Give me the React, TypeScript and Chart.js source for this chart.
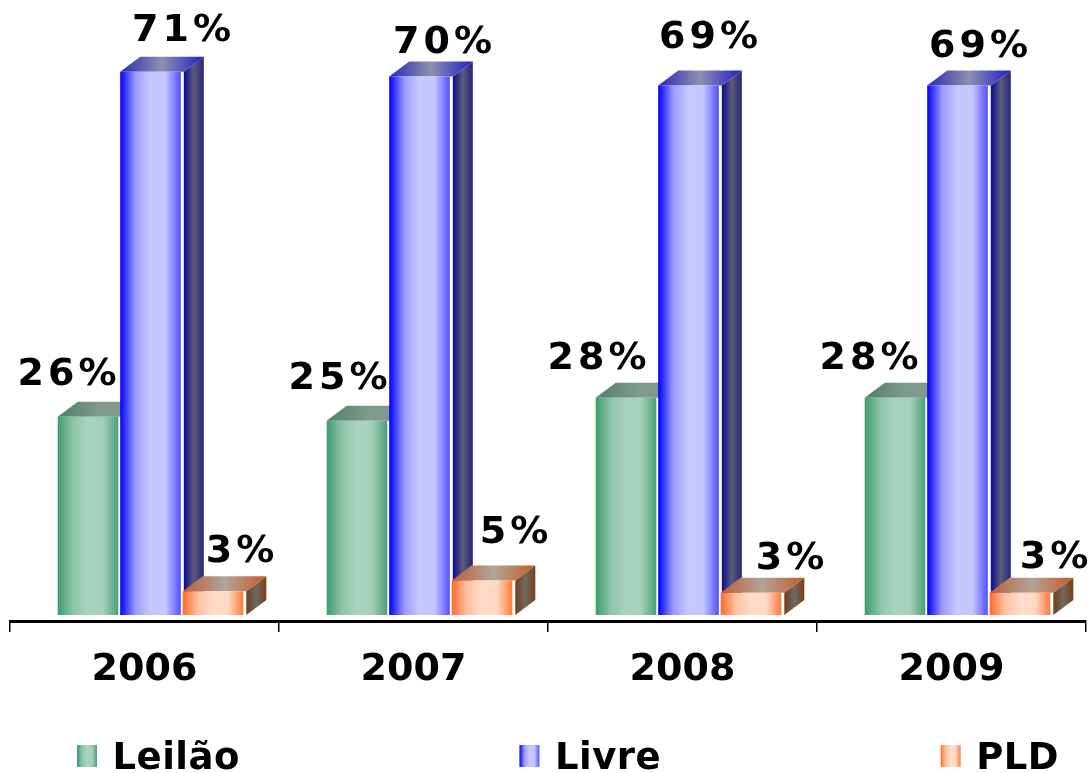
import React, { useEffect, useRef } from "react";
import { Chart, registerables } from "chart.js";

Chart.register(...registerables);

const years = ["2006", "2007", "2008", "2009"];
const seriesNames = ["Leilão", "Livre", "PLD"];
const leilao = [25.9, 25.4, 28.4, 28.4];
const livre = [71, 70.4, 69.2, 69.2];
const pld = [3.1, 4.5, 2.9, 2.9];
const labelDx = [
  [-19, -17, -27, -24],
  [33, 25, 22, 23],
  [29, 34, 41, 36],
];
const labelDy = [
  [-42, -42, -39, -39],
  [-41, -33, -47, -38],
  [-39, -47, -34, -35],
];

type Palette = {
  face: string[];
  top: string[];
  side: string[];
};
const palettes: Palette[] = [
  {
    face: ["#3f9a70", "#8cc4a9", "#a9d3bf", "#a4cfba", "#4aa078"],
    top: ["#4f7f68", "#7f9a8a", "#7f9a8a"],
    side: ["#3f6a55", "#6f8f7f", "#3f6a55"],
  },
  {
    face: ["#0000ff", "#9a9aff", "#c8c8ff", "#c4c4ff", "#5050ff"],
    top: ["#2a2ab0", "#8f8fb0", "#1e1ec8"],
    side: ["#0a0a90", "#5c5c78", "#25257f"],
  },
  {
    face: ["#ff6a28", "#ffc0a0", "#ffdcc8", "#ffd8c4", "#ff7a38"],
    top: ["#bc5f38", "#b0a498", "#c85a24"],
    side: ["#6e3e1e", "#706a62", "#7a3e14"],
  },
];

const DEPTH_X = 20;
const DEPTH_Y = 15;
const FACE_GAP = 3;
const BAR_SHIFT = 6;

function grad(ctx: CanvasRenderingContext2D, x0: number, x1: number, stops: string[]) {
  const g = ctx.createLinearGradient(x0, 0, x1, 0);
  stops.forEach((c, i) => g.addColorStop(i / (stops.length - 1), c));
  return g;
}

const bars3d = {
  id: "bars3d",
  afterDatasetsUpdate(chart: any) {
    chart.data.datasets.forEach((_: any, i: number) => {
      chart.getDatasetMeta(i).data.forEach((el: any) => {
        el.x += BAR_SHIFT;
      });
    });
  },
  beforeDatasetsDraw(chart: any) {
    // series are painted left to right so each one overlaps the depth of the previous
    const ctx: CanvasRenderingContext2D = chart.ctx;
    chart.data.datasets.forEach((_: any, i: number) => {
      const pal = palettes[i];
      chart.getDatasetMeta(i).data.forEach((el: any) => {
        const l = el.x - el.width / 2;
        const r = el.x + el.width / 2;
        const fr = r + FACE_GAP;
        const t = el.y;
        const b = el.base;
        ctx.save();
        ctx.fillStyle = grad(ctx, fr, fr + DEPTH_X, pal.side);
        ctx.beginPath();
        ctx.moveTo(fr, t);
        ctx.lineTo(fr + DEPTH_X, t - DEPTH_Y);
        ctx.lineTo(fr + DEPTH_X, b - DEPTH_Y);
        ctx.lineTo(fr, b);
        ctx.closePath();
        ctx.fill();
        ctx.fillStyle = grad(ctx, l, fr + DEPTH_X, pal.top);
        ctx.beginPath();
        ctx.moveTo(l, t);
        ctx.lineTo(l + DEPTH_X, t - DEPTH_Y);
        ctx.lineTo(fr + DEPTH_X, t - DEPTH_Y);
        ctx.lineTo(fr, t);
        ctx.closePath();
        ctx.fill();
        ctx.restore();
        el.options.backgroundColor = grad(ctx, l, r, pal.face);
        el.draw(ctx);
      });
    });
  },
  beforeDatasetDraw() {
    return false;
  },
  afterDatasetsDraw(chart: any) {
    const ctx: CanvasRenderingContext2D = chart.ctx;
    ctx.save();
    ctx.font = "bold 38px 'DejaVu Sans'";
    (ctx as any).letterSpacing = "4px";
    ctx.fillStyle = "#000";
    ctx.textAlign = "center";
    ctx.textBaseline = "middle";
    chart.data.datasets.forEach((ds: any, i: number) => {
      chart.getDatasetMeta(i).data.forEach((el: any, j: number) => {
        ctx.fillText(`${Math.round(ds.data[j])}%`, el.x + labelDx[i][j], el.y + labelDy[i][j]);
      });
    });
    ctx.restore();
  },
  afterDraw(chart: any) {
    // legend row: items separated by one constant gap
    const ctx: CanvasRenderingContext2D = chart.ctx;
    ctx.save();
    ctx.font = "bold 37px 'DejaVu Sans'";
    (ctx as any).letterSpacing = "0.5px";
    ctx.textBaseline = "alphabetic";
    ctx.textAlign = "left";
    let x = 77;
    seriesNames.forEach((name, i) => {
      ctx.fillStyle = grad(ctx, x, x + 20, palettes[i].face);
      ctx.fillRect(x, 745, 20, 22);
      ctx.fillStyle = "#000";
      ctx.fillText(name, x + 35.5, 769);
      x += 35.5 + ctx.measureText(name).width + 279.5;
    });
    ctx.restore();
  },
};

export default function App() {
  const ref = useRef<HTMLCanvasElement>(null);
  useEffect(() => {
    const canvas = ref.current!;
    const ctx = canvas.getContext("2d")!;
    (ctx as any).letterSpacing = "1.5px";
    const series = [leilao, livre, pld];
    const chart = new Chart(canvas, {
      type: "bar",
      data: {
        labels: years,
        datasets: series.map((data, i) => ({
          label: seriesNames[i],
          data,
          clip: false as any,
          backgroundColor: palettes[i].face[2],
          borderWidth: 0,
          categoryPercentage: 0.697,
          barPercentage: 0.97,
        })),
      },
      options: {
        responsive: false,
        animation: false,
        devicePixelRatio: 1,
        layout: { padding: { left: 10, right: 4, top: 0, bottom: 0 } },
        plugins: { legend: { display: false }, tooltip: { enabled: false } },
        scales: {
          x: {
            afterFit: (s: any) => {
              s.height = 152;
            },
            border: { color: "#000", width: 3 },
            grid: { drawOnChartArea: false, color: "#000", tickLength: 11, lineWidth: 1.5 },
            ticks: {
              color: "#000",
              font: { family: "'DejaVu Sans'", weight: "bold", size: 38 },
              padding: 15,
              maxRotation: 0,
            },
          },
          y: { display: false, min: -0.784, max: 80.39 },
        },
      },
      plugins: [bars3d],
    });
    return () => chart.destroy();
  }, []);
  return (
    <canvas
      ref={ref}
      width={1090}
      height={773}
      style={{ position: "fixed", left: 0, top: 0, display: "block" }}
    />
  );
}
